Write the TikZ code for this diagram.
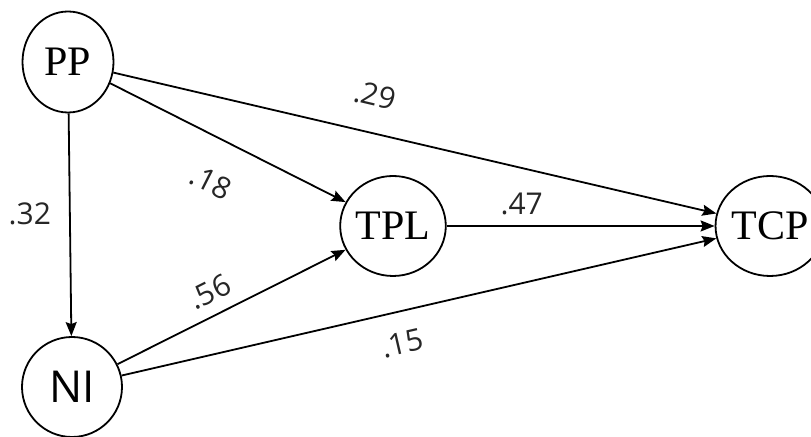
\documentclass[tikz,border=0pt]{standalone}
\usepackage{fontspec}
\setmainfont{Liberation Serif}
\newfontfamily\coeffont{Open Sans}
\usepackage{tikz}
\usetikzlibrary{arrows.meta,shapes.geometric}

\begin{document}
\begin{tikzpicture}[
    x=0.5pt,y=-0.5pt,
    var/.style={ellipse,draw,line width=0.9pt,minimum width=50pt,minimum height=50pt,
      inner sep=0pt,font=\fontsize{21}{21}\selectfont},
    path/.style={-{Stealth[length=7pt,width=5.5pt,inset=1pt]},line width=0.9pt},
    coef/.style={inner sep=0pt,text=black!85,font=\coeffont\fontsize{15}{15}\selectfont}
]
\useasboundingbox (0,0) rectangle (811,437);
\node[var,minimum width=45.5pt,minimum height=50.5pt] (PP) at (68,62) {PP};
\node[var,font=\coeffont\fontsize{22}{22}\selectfont] (NI) at (72,387) {NI};
\node[var] (TPL) at (393,226) {TPL};
\node[var] (TCP) at (770,226) {TCP};
\draw[path] (PP)--node[coef,pos=0.45,left=9pt]{.32}(NI);
\draw[path] (PP)--node[coef,pos=0.51,sloped,below=15.5pt]{.18}(TPL);
\draw[path] (PP)--node[coef,pos=0.42,sloped,above=12.6pt]{.29}(TCP);
\draw[path] (NI)--node[coef,pos=0.45,sloped,above=5.6pt]{.56}(TPL);
\draw[path] (NI)--node[coef,pos=0.46,sloped,below=10pt]{.15}(TCP);
\draw[path] (TPL)--node[coef,pos=0.28,above=5pt]{.47}(TCP);
\end{tikzpicture}
\end{document}
